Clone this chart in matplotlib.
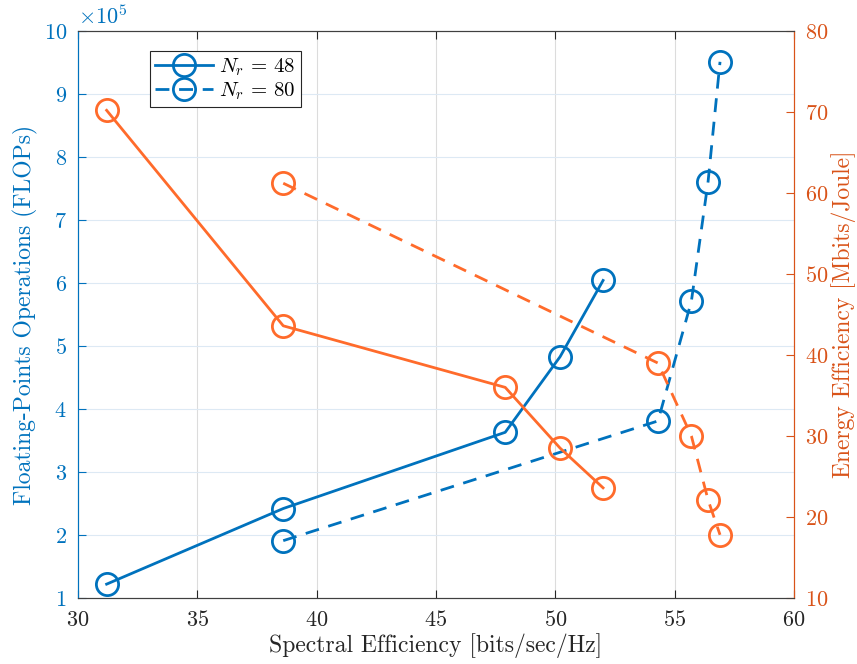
import matplotlib
matplotlib.use("Agg")
import matplotlib.pyplot as plt
from matplotlib.lines import Line2D

plt.rcParams['font.family'] = 'serif'
plt.rcParams['font.serif'] = ['cmr10', 'DejaVu Serif']
plt.rcParams['mathtext.fontset'] = 'cm'
plt.rcParams['axes.formatter.use_mathtext'] = True

# spectral efficiency for each receiver count
se_48 = [31.2, 38.6, 47.9, 50.2, 52.0]
se_80 = [38.6, 54.3, 55.7, 56.4, 56.9]
# FLOPs (x 1e5)
flops_48 = [1.22, 2.42, 3.63, 4.83, 6.04]
flops_80 = [1.91, 3.81, 5.71, 7.61, 9.51]
# energy efficiency [Mbits/Joule]
ee_48 = [70.2, 43.6, 36.0, 28.5, 23.6]
ee_80 = [61.2, 39.0, 30.0, 22.1, 17.8]

blue = '#0072BD'
orange_ax = '#D95319'
orange = '#FF6B2B'

fig = plt.figure(figsize=(8.57, 6.64), dpi=100)
ax = fig.add_axes([0.091, 0.0994, 0.8355, 0.854])
ax2 = ax.twinx()

mk = dict(marker='o', markersize=16, markerfacecolor='none', markeredgewidth=2.0, linewidth=2.0)
dash = (5, 3.5)

ax.plot(se_48, flops_48, color=blue, linestyle='-', **mk)
ax.plot(se_80, flops_80, color=blue, linestyle='--', dashes=dash, **mk)
ax2.plot(se_48, ee_48, color=orange, linestyle='-', **mk)
ax2.plot(se_80, ee_80, color=orange, linestyle='--', dashes=dash, **mk)

ax.set_xlim(30, 60)
ax.set_ylim(1, 10)
ax2.set_ylim(10, 80)
ax.set_xticks(range(30, 61, 5))
ax.set_yticks(range(1, 11))
ax2.set_yticks(range(10, 81, 10))

ax.grid(False)
for xv in range(35, 60, 5):
    ax.axvline(xv, color='#dcdcdc', linewidth=0.8, zorder=0)
for yv in range(2, 10):
    ax.axhline(yv, color='#dde9f4', linewidth=0.8, zorder=0)

ax.tick_params(axis='x', direction='in', top=True, length=6, labelsize=16, colors='#262626', pad=9)
ax.tick_params(axis='y', direction='in', length=6, labelsize=16, colors=blue, pad=8)
ax2.tick_params(axis='y', direction='in', length=6, labelsize=16, colors=orange_ax, pad=8)

for a in (ax, ax2):
    a.spines['top'].set_color('#404040')
    a.spines['bottom'].set_color('#404040')
    a.spines['left'].set_color(blue)
    a.spines['right'].set_color(orange_ax)

ax.set_xlabel('Spectral Efficiency [bits/sec/Hz]', fontsize=17, color='#262626', labelpad=2)
ax.set_ylabel('Floating-Points Operations (FLOPs)', fontsize=17, color=blue, labelpad=4)
ax2.set_ylabel('Energy Efficiency [Mbits/Joule]', fontsize=17, color=orange_ax, labelpad=2)
ax.text(0.0, 1.005, r'$\times 10^5$', transform=ax.transAxes, fontsize=16, color=blue,
        ha='left', va='bottom')

handles = [
    Line2D([], [], color=blue, linestyle='-', **mk),
    Line2D([], [], color=blue, linestyle='--', dashes=dash, **mk),
]
leg = ax2.legend(handles, [r'$N_r\,=\,48$', r'$N_r\,=\,80$'], loc='upper left',
                 bbox_to_anchor=(0.1, 0.965), fontsize=15, fancybox=False,
                 edgecolor='#262626', framealpha=1, handlelength=2.8,
                 borderpad=0.25, labelspacing=0.15, handletextpad=0.3, borderaxespad=0)
leg.get_frame().set_linewidth(0.8)

fig.savefig('out.png', dpi=100)
